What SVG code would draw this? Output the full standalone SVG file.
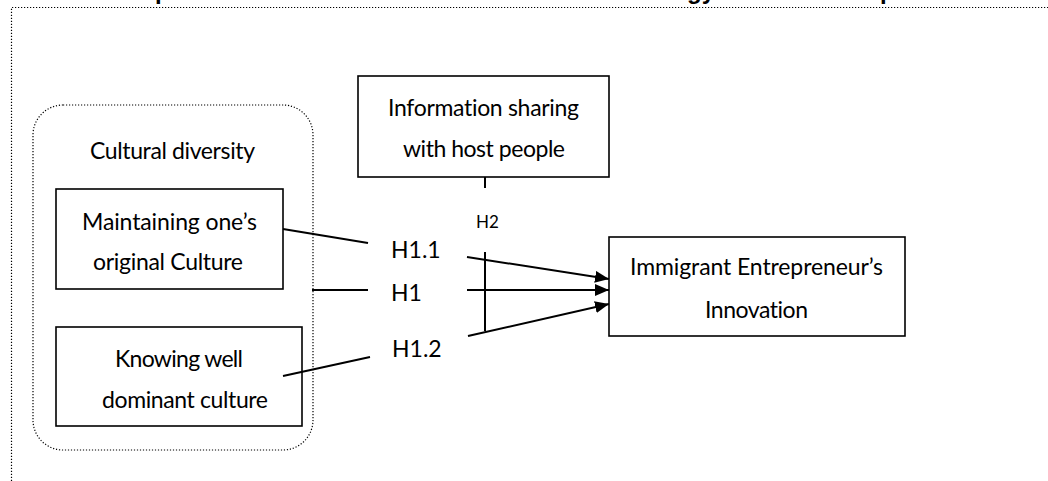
<svg xmlns="http://www.w3.org/2000/svg" width="1048" height="481" viewBox="0 0 1048 481">
<defs>
<style>
.frame{fill:none;stroke:#000;stroke-width:1.2;stroke-dasharray:1.2 1.8}
.box{fill:#fff;stroke:#000;stroke-width:1.6}
.t{font-family:Lato,"Liberation Sans",sans-serif;font-size:23px;fill:#000;font-variant-ligatures:none;font-feature-settings:"liga" 0,"dlig" 0}
.s{font-family:Lato,"Liberation Sans",sans-serif;font-size:17px;fill:#000}
.title{font-family:"Liberation Sans",Arial,sans-serif;font-size:24px;font-weight:bold;fill:#000}
.c{fill:none;stroke:#000;stroke-width:2}
</style>
<marker id="arr" viewBox="0 0 14 12" refX="14" refY="6" markerWidth="14" markerHeight="12" markerUnits="userSpaceOnUse" orient="auto">
<path d="M0,0 L14,6 L0,12 Z" fill="#000"/>
</marker>
</defs>
<rect width="1048" height="481" fill="#fff"/>
<text class="title" y="-1"><tspan x="155">p</tspan><tspan x="687">gy</tspan><tspan x="880">p</tspan></text>
<path class="frame" d="M11.5,481 L11.5,7.5 L1048,7.5"/>
<g id="cultural-diversity">
<rect class="frame" x="33" y="105" width="280" height="345" rx="30" ry="30"/>
<text class="t" x="90" y="159" textLength="165">Cultural diversity</text>
</g>
<g id="maintaining">
<rect class="box" x="56" y="189" width="227" height="100"/>
<text class="t" x="82" y="230" textLength="175">Maintaining one’s</text>
<text class="t" x="93" y="270" textLength="150">original Culture</text>
</g>
<g id="knowing">
<rect class="box" x="56" y="327" width="246" height="99"/>
<text class="t" x="115" y="367" textLength="128">Knowing well</text>
<text class="t" x="102" y="408" textLength="166">dominant culture</text>
</g>
<g id="information">
<rect class="box" x="358" y="76" width="251" height="101"/>
<text class="t" x="388" y="116" textLength="191">Information sharing</text>
<text class="t" x="403" y="157" textLength="162">with host people</text>
</g>
<g id="innovation">
<rect class="box" x="609" y="237" width="296" height="99"/>
<text class="t" x="630" y="275" textLength="253">Immigrant Entrepreneur’s</text>
<text class="t" x="705" y="318" textLength="103">Innovation</text>
</g>
<g id="connectors">
<path class="c" d="M283,229 L368,243"/>
<path class="c" d="M312,290 L368,290"/>
<path class="c" d="M283,376 L370,357"/>
<path class="c" d="M485,177 L485,188"/>
<path class="c" d="M485,252 L485,331"/>
<path class="c" d="M467,257 L609,279" marker-end="url(#arr)"/>
<path class="c" d="M467,290 L609,290" marker-end="url(#arr)"/>
<path class="c" d="M468,336 L609,304" marker-end="url(#arr)"/>
</g>
<g id="labels">
<text class="s" x="476" y="228">H2</text>
<text class="t" x="391" y="258">H1.1</text>
<text class="t" x="391" y="301">H1</text>
<text class="t" x="392" y="357">H1.2</text>
</g>
</svg>
